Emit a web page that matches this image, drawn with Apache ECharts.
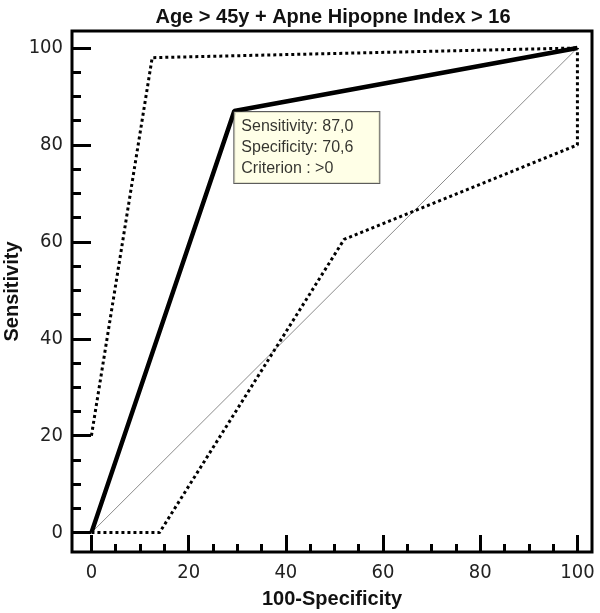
<!DOCTYPE html>
<html>
<head>
<meta charset="utf-8">
<script src="https://cdn.jsdelivr.net/npm/echarts@6/dist/echarts.min.js"></script>
<style>html,body{margin:0;padding:0;background:#fff}#c{width:600px;height:613px}</style>
</head>
<body>
<div id="c"></div>
<script>
// ---- data ----
const titleText = 'Age > 45y + Apne Hipopne Index > 16';
const xName = '100-Specificity';
const yName = 'Sensitivity';
const xTickValues = [0, 20, 40, 60, 80, 100];
const yTickValues = [0, 20, 40, 60, 80, 100];
const xMinorTickValues = [5, 10, 15, 25, 30, 35, 45, 50, 55, 65, 70, 75, 85, 90, 95];
const yMinorTickValues = [5, 10, 15, 25, 30, 35, 45, 50, 55, 65, 70, 75, 85, 90, 95];
// ROC curve (100-Specificity, Sensitivity)
const rocX = [0, 29.4, 100];
const rocY = [0, 87.0, 100];
// confidence bounds (dotted)
const upperX = [0, 12.5, 100];
const upperY = [20, 98, 100];
const lowerX = [0, 14, 52, 100, 100];
const lowerY = [0, 0, 60.5, 80, 100];
// reference diagonal
const diagX = [0, 100];
const diagY = [0, 100];
// annotated criterion point
const critX = [29.4];
const critY = [87.0];
const critLines = ['Sensitivity: 87,0', 'Specificity: 70,6', 'Criterion : >0'];

const zip = (xs, ys) => xs.map((x, i) => [x, ys[i]]);

const chart = echarts.init(document.getElementById('c'), null, {renderer: 'canvas'});
const labelFont = '"Liberation Sans Narrow", "DejaVu Sans Condensed", "Liberation Sans", sans-serif';
const boldFont = '"Liberation Sans", Arial, sans-serif';

const X_MIN = -4, X_MAX = 103, Y_MIN = -4, Y_MAX = 103.5;
const gridBox = {left: 72, right: 8, top: 31, bottom: 61, containLabel: false, outerBoundsMode: 'none'};

function xAxisDef(gridIndex, ticks, len, labels) {
  return {
    gridIndex, type: 'value', min: X_MIN, max: X_MAX, position: 'bottom',
    axisLine: {show: false, onZero: false},
    axisTick: {show: true, inside: true, length: len, customValues: ticks, lineStyle: {color: '#000', width: 3}},
    splitLine: {show: false},
    axisLabel: labels ? {show: true, customValues: ticks, margin: 11, fontFamily: labelFont, fontSize: 20, color: '#222'} : {show: false},
    name: labels ? xName : '', nameLocation: 'middle', nameGap: 37,
    nameTextStyle: {fontFamily: boldFont, fontWeight: 'bold', fontSize: 20, color: '#111'}
  };
}
function yAxisDef(gridIndex, ticks, len, labels) {
  return {
    gridIndex, type: 'value', min: Y_MIN, max: Y_MAX, position: 'left',
    axisLine: {show: false, onZero: false},
    axisTick: {show: true, inside: true, length: len, customValues: ticks, lineStyle: {color: '#000', width: 3}},
    splitLine: {show: false},
    axisLabel: labels ? {show: true, customValues: ticks, margin: 9, fontFamily: labelFont, fontSize: 20, color: '#222'} : {show: false},
    name: labels ? yName : '', nameLocation: 'middle', nameGap: 50, nameMoveOverlap: false,
    nameTextStyle: {fontFamily: boldFont, fontWeight: 'bold', fontSize: 20, color: '#111'}
  };
}

chart.setOption({
  animation: false,
  backgroundColor: '#ffffff',
  title: {
    text: titleText,
    left: 328,
    textAlign: 'center',
    top: 2,
    textStyle: {fontFamily: boldFont, fontWeight: 'bold', fontSize: 20, color: '#111'}
  },
  grid: [
    Object.assign({show: true, borderColor: '#000', borderWidth: 3, backgroundColor: 'transparent'}, gridBox),
    Object.assign({show: false}, gridBox)
  ],
  xAxis: [xAxisDef(0, xTickValues, 17, true), xAxisDef(1, xMinorTickValues, 8, false)],
  yAxis: [yAxisDef(0, yTickValues, 19, true), yAxisDef(1, yMinorTickValues, 9, false)],
  series: [
    {
      type: 'line', xAxisIndex: 0, yAxisIndex: 0, data: zip(diagX, diagY),
      symbol: 'none', silent: true,
      lineStyle: {color: '#8c8c8c', width: 1}
    },
    {
      type: 'line', xAxisIndex: 0, yAxisIndex: 0, data: zip(upperX, upperY),
      symbol: 'none', silent: true,
      lineStyle: {color: '#000', width: 3, type: [3, 3]}
    },
    {
      type: 'line', xAxisIndex: 0, yAxisIndex: 0, data: zip(lowerX, lowerY),
      symbol: 'none', silent: true,
      lineStyle: {color: '#000', width: 3, type: [3, 3]}
    },
    {
      type: 'line', xAxisIndex: 0, yAxisIndex: 0, data: zip(rocX, rocY),
      symbol: 'none', silent: true,
      lineStyle: {color: '#000', width: 4.5}
    },
    {
      type: 'scatter', xAxisIndex: 0, yAxisIndex: 0, data: zip(critX, critY),
      symbolSize: 0, silent: true, z: 10,
      label: {
        show: true, position: [0, 1],
        formatter: () => critLines.join('\n'),
        fontFamily: '"Liberation Sans", Arial, sans-serif', fontSize: 16, color: '#000',
        lineHeight: 21, padding: [4, 7], width: 131,
        backgroundColor: '#ffffe1', borderColor: '#333', borderWidth: 1
      }
    }
  ]
});
</script>
</body>
</html>
